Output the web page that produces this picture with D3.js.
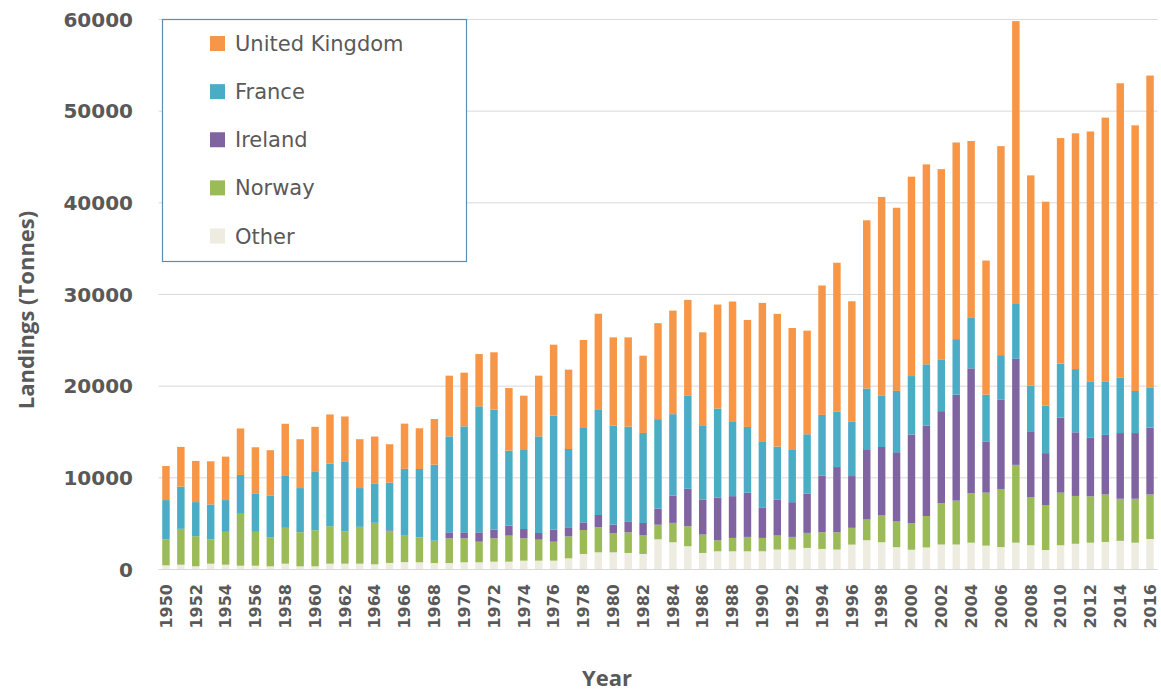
<!DOCTYPE html>
<html>
<head>
<meta charset="utf-8">
<script src="https://cdn.jsdelivr.net/npm/d3@7"></script>
<style>
  html, body { margin: 0; padding: 0; background: #fff; }
  svg { display: block; }
</style>
</head>
<body>
<svg id="chart" width="1161" height="693"></svg>
<script>
// Annual landings by country (tonnes), 1950–2016
const years = d3.range(1950, 2017);

const unitedKingdom = [
  3720, 4340, 4490, 4710, 4740, 5070, 5030, 4930, 5690, 5330,
  4850, 5360, 4960, 5330, 5110, 4190, 4930, 4440, 4980, 6620,
  5860, 5700, 6260, 6840, 5930, 6620, 7740, 8660, 9600, 10500,
  9630, 9740, 8430, 10470, 11300, 10470, 10140, 11340, 13060, 11670,
  15170, 14480, 13310, 11300, 14120, 16230, 13160, 18350, 21700, 19980,
  21750, 21810, 20810, 21450, 19300, 14630, 22800, 30860, 22920, 22250,
  24600, 25720, 27320, 28830, 32100, 28980, 34010
];
const france = [
  4310, 4600, 3720, 3830, 3470, 4240, 4200, 4560, 5660, 4820,
  6430, 6830, 7560, 4230, 4300, 5200, 7230, 7460, 8290, 10470,
  11560, 13750, 13090, 8180, 8620, 10540, 12440, 8540, 10290, 11460,
  10800, 10330, 9820, 9760, 8870, 10140, 8090, 9740, 8170, 7180,
  7190, 5760, 5690, 6490, 6600, 6060, 5910, 6710, 5580, 6690,
  6380, 6700, 5590, 6060, 5500, 5100, 4830, 5980, 5070, 5180,
  5900, 6900, 6100, 5780, 6060, 4590, 4390
];
const ireland = [
  0, 0, 0, 0, 0, 0, 0, 0, 0, 0,
  0, 0, 0, 0, 0, 100, 0, 0, 0, 650,
  650, 1020, 940, 1090, 1010, 730, 1310, 990, 840, 1340,
  950, 1200, 1310, 1760, 2990, 4080, 3830, 4630, 4560, 4820,
  3280, 3940, 3790, 4270, 6200, 7110, 5650, 7580, 7470, 7560,
  9660, 9850, 10040, 11560, 13640, 5590, 9770, 11570, 7100, 5660,
  8180, 6940, 6380, 6500, 7170, 7170, 7300
];
const norway = [
  2810, 3910, 3280, 2630, 3580, 5660, 3690, 3180, 3910, 3720,
  3940, 4090, 3540, 4020, 4530, 3460, 2950, 2720, 2440, 2700,
  2620, 2250, 2550, 2840, 2440, 2290, 2070, 2400, 2610, 2730,
  2070, 2250, 2070, 1590, 2110, 2190, 2010, 1210, 1460, 1570,
  1460, 1530, 1380, 1640, 1820, 1890, 1830, 2260, 2920, 2800,
  2910, 3430, 4510, 4790, 5380, 5780, 6340, 8490, 5260, 4910,
  5740, 5220, 5060, 5180, 4590, 4790, 4860
];
const other = [
  400, 470, 300, 580, 470, 360, 360, 290, 580, 290,
  290, 580, 580, 580, 510, 660, 750, 730, 650, 650,
  730, 730, 800, 800, 910, 910, 910, 1160, 1640, 1820,
  1820, 1750, 1640, 3240, 2920, 2480, 1750, 1930, 1930, 1930,
  1930, 2120, 2120, 2300, 2190, 2120, 2660, 3140, 2920, 2380,
  2100, 2350, 2670, 2670, 2870, 2550, 2390, 2870, 2590, 2070,
  2590, 2750, 2870, 2950, 3070, 2870, 3270
];

const yTicks = [0, 10000, 20000, 30000, 40000, 50000, 60000];
const xTickYears = years.filter(y => (y - 1950) % 2 === 0);

// Series listed bottom-to-top in the stack
const seriesKeys = ["Other", "Norway", "Ireland", "France", "United Kingdom"];
const seriesColors = {
  "United Kingdom": "#F79646",
  "France": "#4BACC6",
  "Ireland": "#8064A2",
  "Norway": "#9BBB59",
  "Other": "#EEECE1"
};
const legendOrder = ["United Kingdom", "France", "Ireland", "Norway", "Other"];

const table = years.map((yr, i) => ({
  year: yr,
  "United Kingdom": unitedKingdom[i],
  "France": france[i],
  "Ireland": ireland[i],
  "Norway": norway[i],
  "Other": other[i]
}));

const svg = d3.select("#chart");
const textColor = "#595959";

const plot = { left: 158.5, right: 1157.5, top: 19, bottom: 569 };

const x = d3.scaleBand()
  .domain(years)
  .range([plot.left, plot.right])
  .paddingInner(0.5)
  .paddingOuter(0.25);

const y = d3.scaleLinear()
  .domain([0, 60000])
  .range([plot.bottom, plot.top]);

// Horizontal gridlines
svg.append("g")
  .selectAll("line")
  .data(yTicks.filter(t => t > 0))
  .join("line")
  .attr("x1", plot.left)
  .attr("x2", plot.right)
  .attr("y1", d => y(d) + 0.5)
  .attr("y2", d => y(d) + 0.5)
  .attr("stroke", "#D9D9D9")
  .attr("stroke-width", 1);

// Stacked bars
const stacked = d3.stack().keys(seriesKeys)(table);

svg.append("g")
  .selectAll("g")
  .data(stacked)
  .join("g")
  .attr("fill", d => seriesColors[d.key])
  .selectAll("rect")
  .data(d => d)
  .join("rect")
  .attr("x", d => x(d.data.year))
  .attr("width", x.bandwidth())
  .attr("y", d => y(d[1]))
  .attr("height", d => Math.max(0, y(d[0]) - y(d[1])));

// Category axis line
svg.append("line")
  .attr("x1", plot.left)
  .attr("x2", plot.right)
  .attr("y1", plot.bottom + 0.5)
  .attr("y2", plot.bottom + 0.5)
  .attr("stroke", "#D9D9D9")
  .attr("stroke-width", 1);

// Y axis labels
const yAxis = d3.axisLeft(y).tickValues(yTicks).tickSize(0).tickPadding(0).tickFormat(d3.format("d"));
const yg = svg.append("g")
  .attr("transform", `translate(133,0)`)
  .call(yAxis);
yg.select(".domain").remove();
yg.selectAll("text")
  .attr("fill", textColor)
  .attr("font-family", "DejaVu Sans, sans-serif")
  .attr("font-weight", "bold")
  .attr("font-size", "20px")
  .attr("dy", "0.36em");

// X axis labels (every second year), rotated
const xAxis = d3.axisBottom(x).tickValues(xTickYears).tickSize(0).tickPadding(0);
const xg = svg.append("g")
  .attr("transform", `translate(0,${plot.bottom})`)
  .call(xAxis);
xg.select(".domain").remove();
xg.selectAll("text")
  .attr("fill", textColor)
  .attr("font-family", "DejaVu Sans, sans-serif")
  .attr("font-weight", "bold")
  .attr("font-size", "16px")
  .attr("text-anchor", "end")
  .attr("transform", "translate(0,15) rotate(-90)")
  .attr("x", 0)
  .attr("y", 0)
  .attr("dy", "0.36em");

// Axis titles
svg.append("text")
  .attr("transform", "translate(34,310) rotate(-90)")
  .attr("text-anchor", "middle")
  .attr("fill", textColor)
  .attr("font-family", "Open Sans, sans-serif")
  .attr("font-weight", "bold")
  .attr("font-size", "22px")
  .text("Landings (Tonnes)");

svg.append("text")
  .attr("x", 607)
  .attr("y", 686)
  .attr("text-anchor", "middle")
  .attr("fill", textColor)
  .attr("font-family", "Open Sans, sans-serif")
  .attr("font-weight", "bold")
  .attr("font-size", "22px")
  .text("Year");

// Legend
const legend = svg.append("g");
legend.append("rect")
  .attr("x", 162.5)
  .attr("y", 19.5)
  .attr("width", 304)
  .attr("height", 242)
  .attr("fill", "#fff")
  .attr("stroke", "#5B8DB5")
  .attr("stroke-width", 1.2);

const rowY = d3.scalePoint().domain(legendOrder).range([43.5, 236]);
const items = legend.selectAll("g.item")
  .data(legendOrder)
  .join("g")
  .attr("class", "item")
  .attr("transform", d => `translate(0,${rowY(d)})`);
items.append("rect")
  .attr("x", 210)
  .attr("y", -7.5)
  .attr("width", 15)
  .attr("height", 15)
  .attr("fill", d => seriesColors[d]);
items.append("text")
  .attr("x", 235)
  .attr("y", 0)
  .attr("dy", "0.36em")
  .attr("fill", textColor)
  .attr("font-family", "DejaVu Sans, sans-serif")
  .attr("font-size", "21px")
  .text(d => d);
</script>
</body>
</html>
